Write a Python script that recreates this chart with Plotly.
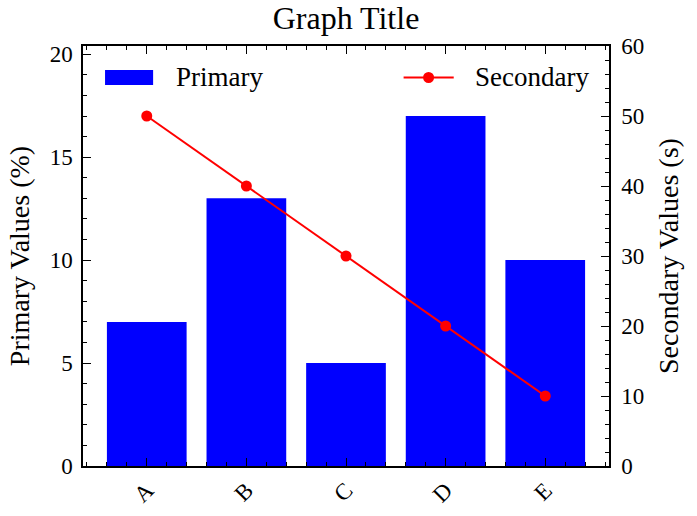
import plotly.graph_objects as go

categories = ["A", "B", "C", "D", "E"]
primary_values = [7, 13, 5, 17, 10]
secondary_values = [50, 40, 30, 20, 10]

FONT = "Liberation Serif"
positions = list(range(len(categories)))

fig = go.Figure()
fig.add_trace(go.Bar(x=positions, y=primary_values, width=0.8, name="Primary",
                     marker=dict(color="#0000ff", line=dict(width=0)), showlegend=False))
fig.add_trace(go.Scatter(x=positions, y=secondary_values, yaxis="y2", name="Secondary",
                         mode="lines+markers", line=dict(color="#ff0000", width=2),
                         marker=dict(color="#ff0000", size=11), showlegend=False))

# manual legend (paper coordinates)
shapes = [
    dict(type="rect", xref="paper", yref="paper", x0=0.0419, x1=0.1333, y0=0.907, y1=0.943,
         fillcolor="#0000ff", line=dict(width=0)),
    dict(type="line", xref="paper", yref="paper", x0=0.6095, x1=0.7048, y0=0.925, y1=0.925,
         line=dict(color="#ff0000", width=2)),
    dict(type="circle", xref="paper", yref="paper", xsizemode="pixel", ysizemode="pixel",
         xanchor=0.657, yanchor=0.925, x0=-5.5, x1=5.5, y0=-5.5, y1=5.5,
         fillcolor="#ff0000", line=dict(width=0)),
]
annotations = [
    dict(text="Primary", xref="paper", yref="paper", x=0.1733, y=0.925, xanchor="left",
         yanchor="middle", showarrow=False, font=dict(family=FONT, size=27, color="black")),
    dict(text="Secondary", xref="paper", yref="paper", x=0.741, y=0.925, xanchor="left",
         yanchor="middle", showarrow=False, font=dict(family=FONT, size=27, color="black")),
]

axis_common = dict(showline=True, linecolor="black", linewidth=1.5, ticks="inside",
                   tickcolor="black", tickwidth=1.2, ticklen=8, showgrid=False, zeroline=False,
                   automargin=False,
                   tickfont=dict(family=FONT, size=23, color="black"))

fig.update_layout(
    width=697, height=516,
    margin=dict(l=83, r=88, t=46, b=50, autoexpand=False),
    paper_bgcolor="white", plot_bgcolor="white",
    title=dict(text="Graph Title", x=346 / 697, xanchor="center",
               y=1 - 18 / 516, yanchor="middle",
               font=dict(family=FONT, size=32, color="black")),
    xaxis=dict(**axis_common, range=[-0.64, 4.64], tickvals=positions, ticktext=categories,
               tickangle=-45, mirror="ticks",
               minor=dict(dtick=0.2, tick0=0, ticks="inside", ticklen=4, tickcolor="black", tickwidth=1.2)),
    yaxis=dict(**axis_common, range=[0, 20.4], dtick=5, tick0=0, ticklabelstandoff=4,
               title=dict(text="Primary Values (%)", font=dict(family=FONT, size=28, color="black"), standoff=12),
               minor=dict(dtick=1, ticks="inside", ticklen=4, tickcolor="black", tickwidth=1.2)),
    yaxis2=dict(**axis_common, range=[0, 60], dtick=10, tick0=0, overlaying="y", side="right",
                ticklabelstandoff=6,
                title=dict(text="Secondary Values (s)", font=dict(family=FONT, size=28, color="black"), standoff=15),
                minor=dict(dtick=2, ticks="inside", ticklen=4, tickcolor="black", tickwidth=1.2)),
    shapes=shapes, annotations=annotations,
    font=dict(family=FONT, color="black"),
)

fig.write_html("out.html")
